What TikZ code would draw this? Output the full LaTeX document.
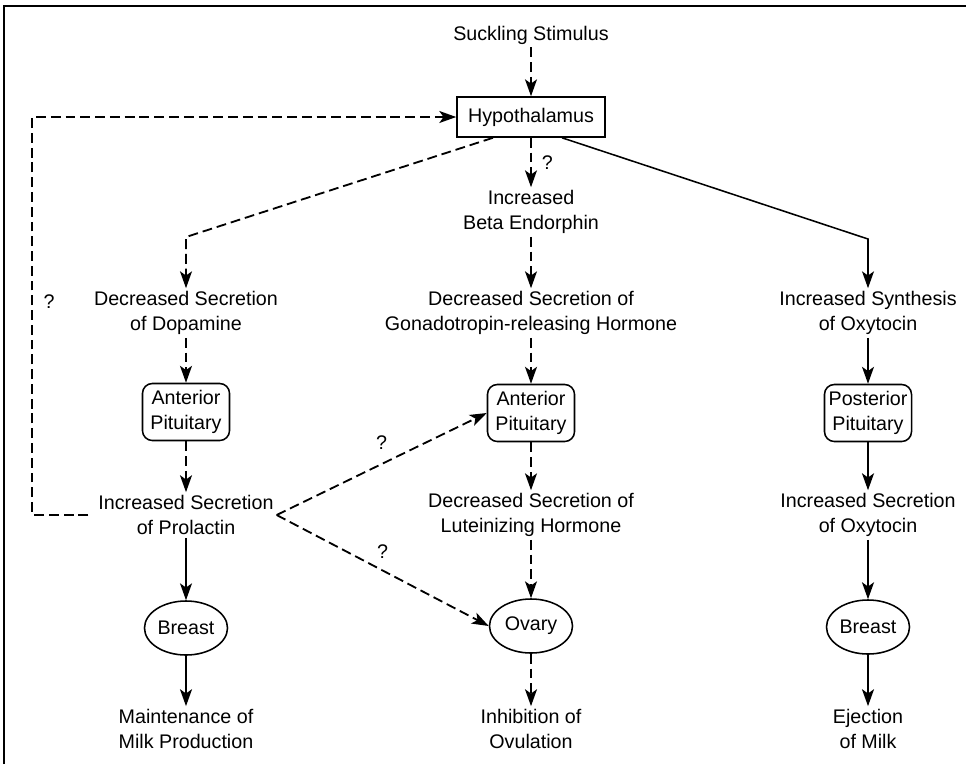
\documentclass[tikz,border=0pt]{standalone}
\usepackage{fontspec}
\setmainfont{Liberation Sans}
\usetikzlibrary{arrows.meta,positioning,calc,shapes.geometric}

\begin{document}
\begin{tikzpicture}[
    x=0.025cm, y=-0.025cm,
    >={Stealth[length=12pt, width=8.5pt, inset=3pt]},
    lbl/.style={align=center, font=\fontsize{14}{17.8}\selectfont, inner sep=2pt},
    hypbox/.style={lbl, rectangle, draw, line width=1.1pt, minimum width=3.7cm, minimum height=1cm},
    pitbox/.style={lbl, rectangle, rounded corners=7pt, draw, line width=1.1pt, minimum width=2.175cm, minimum height=1.425cm, inner sep=1pt},
    organ/.style={lbl, ellipse, draw, line width=1.1pt, minimum width=2.075cm, minimum height=1.35cm, inner sep=0pt},
    dashline/.style={dashed, dash pattern=on 7pt off 3.5pt, line width=1.3pt},
    thinline/.style={line width=1.1pt},
    thickline/.style={line width=1.7pt},
    qm/.style={font=\fontsize{14}{16}\selectfont, inner sep=0pt},
]
\useasboundingbox (0,0) rectangle (966,764);
\draw[line width=1.4pt] (4,764) -- (4,6) -- (966,6);

% top
\node[lbl] (suck) at (531,35) {Suckling Stimulus};
\node[hypbox] (hyp) at (531,117) {Hypothalamus};
\node[lbl] (beta) at (531,212) {Increased\\Beta Endorphin};
\coordinate (lbend) at (186,237);
\coordinate (rbend) at (868,239);

% left column
\node[lbl] (dop) at (186,313) {Decreased Secretion\\of Dopamine};
\node[pitbox] (pitl) at (186,412) {Anterior\\Pituitary};
\node[lbl] (prl) at (186,515) {Increased Secretion\\of Prolactin};
\node[organ] (breastl) at (186,628) {Breast};
\node[lbl] (maint) at (186,729) {Maintenance of\\Milk Production};
\node[qm] (fbq) at (49,302) {?};

% middle column
\node[lbl] (gnrh) at (531,313) {Decreased Secretion of\\Gonadotropin-releasing Hormone};
\node[pitbox] (pitc) at (531,413) {Anterior\\Pituitary};
\node[lbl] (lh) at (531,515) {Decreased Secretion of\\Luteinizing Hormone};
\node[organ] (ovary) at (531,626) {Ovary};
\node[lbl] (inhib) at (531,729) {Inhibition of\\Ovulation};

% right column
\node[lbl] (oxysyn) at (868,313) {Increased Synthesis\\of Oxytocin};
\node[pitbox] (pitr) at (868,413) {Posterior\\Pituitary};
\node[lbl] (oxysec) at (868,515) {Increased Secretion\\of Oxytocin};
\node[organ] (breastr) at (868,627) {Breast};
\node[lbl] (eject) at (868,729) {Ejection\\of Milk};

% connectors
\draw[dashline, ->] (suck) -- (hyp);
\draw[dashline, ->] (hyp) -- node[qm, right=7pt] {?} (beta);
\draw[dashline, ->] (beta) -- (gnrh);
\draw[dashline, ->] (gnrh) -- (pitc);
\draw[dashline, ->] (pitc) -- (lh);
\draw[dashline, ->] (lh) -- (ovary);
\draw[dashline, ->] (ovary) -- (inhib);

\draw[dashline, ->] ($(hyp.south)+(-38,0)$) -- (lbend) -- (dop);
\draw[dashline, ->] (dop) -- (pitl);
\draw[dashline, ->] (pitl) -- (prl);
\draw[thinline, ->] (prl) -- (breastl);
\draw[thickline, ->] (breastl) -- (maint);

\draw[thinline, ->] ($(hyp.south)+(31,0)$) -- (rbend) -- (oxysyn);
\draw[thinline, ->] (oxysyn) -- (pitr);
\draw[thickline, ->] (pitr) -- (oxysec);
\draw[thickline, ->] (oxysec) -- (breastr);
\draw[thickline, ->] (breastr) -- (eject);

\draw[dashline, ->] (prl.east) -- node[qm, above=10pt] {?} (pitc.west);
\draw[dashline, ->] (prl.east) -- node[qm, above=8pt] {?} (ovary.west);
\draw[dashline, ->, shorten <=5pt] (prl.west) -- ++(-63,0) |- (hyp.west);
\end{tikzpicture}
\end{document}
